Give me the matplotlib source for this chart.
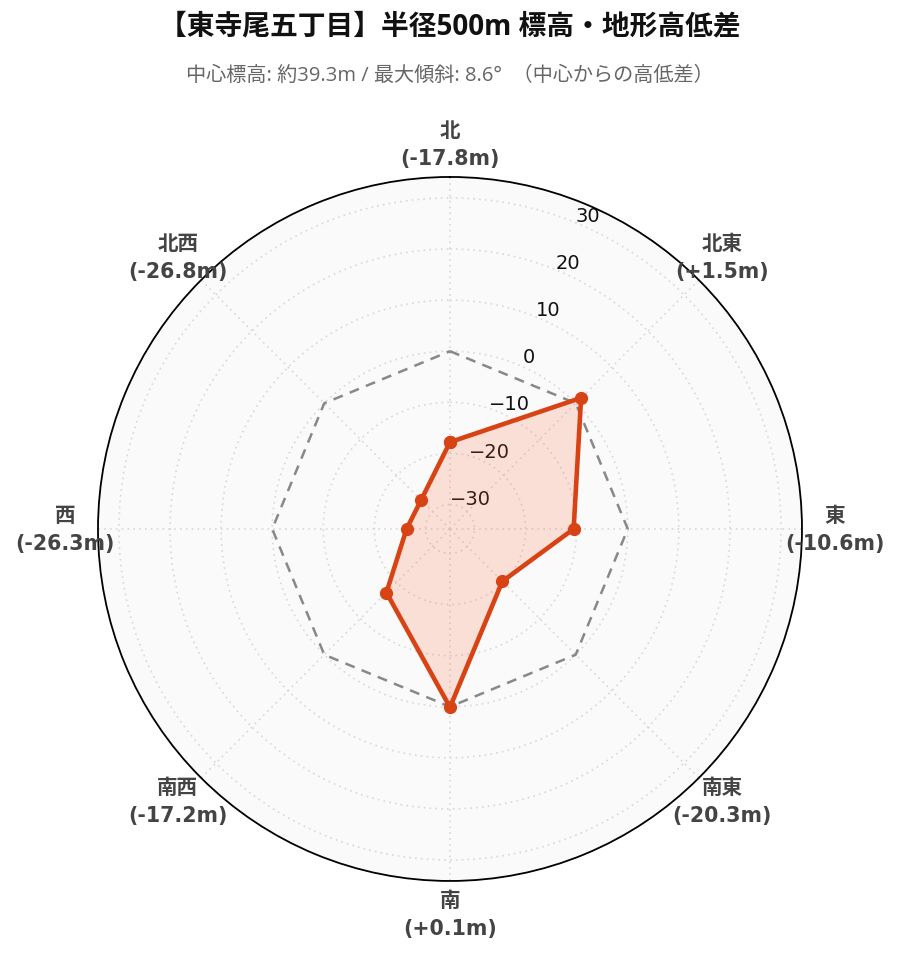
import numpy as np
import matplotlib
matplotlib.use("Agg")
import matplotlib.pyplot as plt
import matplotlib.transforms as mtransforms

directions = ["北", "北東", "東", "南東", "南", "南西", "西", "北西"]
values = [-17.8, 1.5, -10.6, -20.3, 0.1, -17.2, -26.3, -26.8]
reference = [0, 0, 0, 0, 0, 0, 0, 0]
r_ticks = [-30, -20, -10, 0, 10, 20, 30]
r_min, r_max = -34.8, 34.1

title = "【東寺尾五丁目】半径500m 標高・地形高低差"
subtitle = "中心標高: 約39.3m / 最大傾斜: 8.6°  （中心からの高低差）"

CJK = ["Open Sans", "Noto Sans CJK JP", "DejaVu Sans"]
LAB = ["DejaVu Sans", "Noto Sans CJK JP"]

fig = plt.figure(figsize=(8.99, 9.62), dpi=100)
ax = fig.add_axes([0.1090, 0.0832, 0.7831, 0.7318], projection="polar")
ax.set_theta_zero_location("N")
ax.set_theta_direction(-1)
ax.set_facecolor("#fafafa")

n = len(directions)
theta = np.deg2rad(np.arange(n) * 360.0 / n)
tc = np.append(theta, theta[0])
vc = np.append(values, values[0])
rc = np.append(reference, reference[0])

ax.plot(tc, rc, color="#888888", lw=1.8, ls=(0, (4, 3)), zorder=3)
ax.fill(tc, vc, color="#ff5a30", alpha=0.17, lw=0, zorder=2)
ax.plot(tc, vc, color="#d84315", lw=3.3, marker="o", ms=8.5, zorder=4)

ax.set_ylim(r_min, r_max)
ax.set_yticks(r_ticks)
ax.set_yticklabels([f"{t}".replace("-", "\u2212") for t in r_ticks], fontsize=14, color="#111111")
ax.set_rlabel_position(22.5)
shift = mtransforms.ScaledTranslation(11 / 100, 8 / 100, fig.dpi_scale_trans)
for lbl in ax.get_yticklabels():
    lbl.set_ha("center")
    lbl.set_va("center")
    lbl.set_transform(lbl.get_transform() + shift)

ax.set_xticks(theta)
ax.set_xticklabels([])
ax.grid(True, color="#d8d8d8", ls=(0, (1, 2.5)), lw=1.2)
ax.spines["polar"].set_color("black")
ax.spines["polar"].set_linewidth(1.3)

# angular labels
cx, cy = 450, 530
R = 385
W, H = 899, 962
for th, d, v in zip(theta, directions, values):
    x = cx + R * np.sin(th)
    y = cy - R * np.cos(th)
    sign = "+" if v >= 0 else ""
    fig.text(x / W, 1 - y / H, f"{d}\n({sign}{v:.1f}m)", ha="center", va="center",
             fontsize=14.8, fontweight="bold", color="#444444", family=LAB,
             linespacing=1.5)

fig.text(0.5, 1 - 27 / H, title, ha="center", va="center", fontsize=20,
         fontweight="bold", color="#111111", family=CJK)
fig.text(0.5, 1 - 76 / H, subtitle, ha="center", va="center", fontsize=14.5,
         color="#666666", family=CJK)

fig.savefig("out.png", dpi=100)
